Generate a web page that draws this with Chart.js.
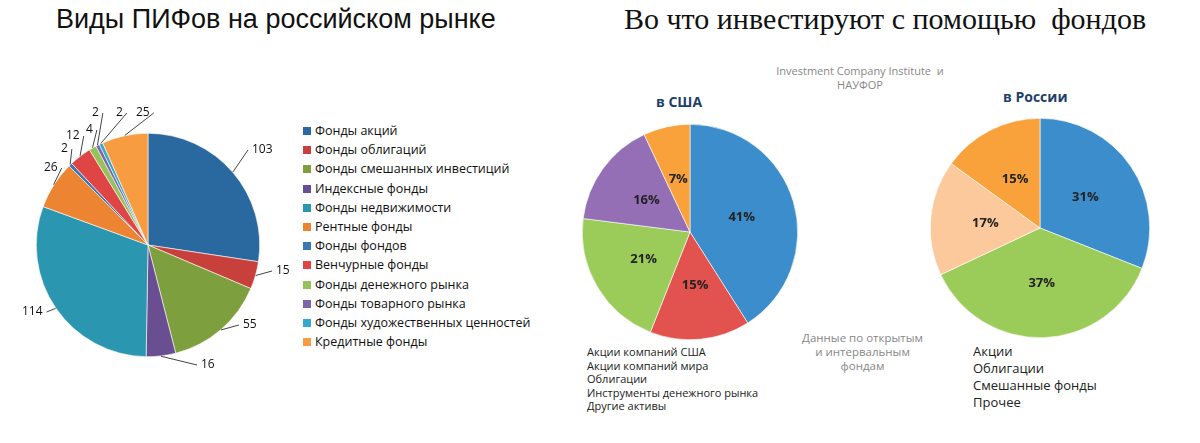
<!DOCTYPE html><html><head><meta charset="utf-8">
<script src="https://cdn.jsdelivr.net/npm/chart.js@4"></script>
<style>
body{margin:0;width:1200px;height:443px;background:#fff;position:relative;font-family:"Open Sans","DejaVu Sans",sans-serif;overflow:hidden}
.a{position:absolute}
canvas{position:absolute}
.lg div{font-size:12.5px;line-height:19.2px;color:#111;white-space:nowrap}
.lg span{display:inline-block;width:8px;height:8px;margin-right:4px}
.lg2 div{font-size:11px;line-height:13.5px;color:#222}
.lg3 div{font-size:13px;line-height:17px;color:#222}
</style></head><body>
<div class="a" style="left:56px;top:4px;font-family:'Liberation Sans',Arial;font-size:27px;color:#111">Виды ПИФов на российском рынке</div>
<div class="a" style="left:624px;top:2px;font-family:'Liberation Serif','DejaVu Serif',serif;font-size:30px;color:#111">Во что инвестируют с помощью&nbsp; фондов</div>
<div class="a" style="left:760px;top:64px;width:200px;text-align:center;font-size:11px;color:#888;line-height:14px">Investment Company Institute&nbsp; и<br>НАУФОР</div>
<div class="a" style="left:656px;top:92px;font-size:14px;font-weight:bold;color:#1f3f6a">в США</div>
<div class="a" style="left:1003px;top:87px;font-size:14px;font-weight:bold;color:#1f3f6a">в России</div>
<div class="a" style="left:785px;top:331px;width:155px;text-align:center;font-size:11.5px;color:#888;line-height:14px">Данные по открытым<br>и интервальным<br>фондам</div>
<div class="a lg" id="lg1" style="left:303px;top:121px"></div>
<div class="a lg2" id="lg2" style="left:587px;top:345px"></div>
<div class="a lg3" id="lg3" style="left:973px;top:343px"></div>
<canvas id="c1" class="a" style="left:36px;top:133px" width="224" height="224"></canvas>
<canvas id="c2" class="a" style="left:582px;top:124px" width="216" height="216"></canvas>
<canvas id="c3" class="a" style="left:930px;top:118px" width="220" height="220"></canvas>
<script>
const fundTypes=["Фонды акций","Фонды облигаций","Фонды смешанных инвестиций","Индексные фонды","Фонды недвижимости","Рентные фонды","Фонды фондов","Венчурные фонды","Фонды денежного рынка","Фонды товарного рынка","Фонды художественных ценностей","Кредитные фонды"];
const fundCounts=[103,15,55,16,114,26,2,12,4,2,2,25];
const fundColors=["#2a69a0","#c8403c","#7e9f3e","#6a4e92","#2a96b0","#ec8432","#3a78b4","#e04545","#96c25a","#8064a8","#32a8cc","#f89c42"];
const usCats=["Акции компаний США","Акции компаний мира","Облигации","Инструменты денежного рынка","Другие активы"];
const usShares=[41,15,21,16,7];
const usColors=["#3c8dcc","#e2534f","#9bcb59","#946fb5","#f9a23c"];
const ruCats=["Акции","Облигации","Смешанные фонды","Прочее"];
const ruShares=[31,37,17,15];
const ruColors=["#3c8dcc","#9bcb59","#fbc99b","#f9a23c"];

function legend(id,cats,cols){document.getElementById(id).innerHTML=cats.map((c,i)=>`<div><span style="background:${cols[i]}"></span>${c}</div>`).join('');}
legend('lg1',fundTypes,fundColors);legend('lg2',usCats,usColors);legend('lg3',ruCats,ruColors);

const inside={id:'inside',afterDatasetsDraw(ch){const ctx=ch.ctx;ch.getDatasetMeta(0).data.forEach((a,i)=>{const p=a.tooltipPosition();ctx.save();ctx.font='bold 13px "Open Sans",sans-serif';ctx.fillStyle='#222';ctx.textAlign='center';ctx.textBaseline='middle';ctx.fillText(ch.data.datasets[0].data[i]+'%',p.x,p.y);ctx.restore();});}};
const base={responsive:false,animation:false,layout:{padding:0},plugins:{legend:{display:false},tooltip:{enabled:false}}};
function pie(id,data,cols,plugins,extra){return new Chart(document.getElementById(id),{type:'pie',data:{datasets:[{data,backgroundColor:cols,borderColor:'#fff',borderWidth:0.6}]},options:Object.assign({},base,extra||{}),plugins});}

// outside labels for the first pie: drawn on a full-page overlay
pie('c1',fundCounts,fundColors,[],{});
pie('c2',usShares,usColors,[inside]);
pie('c3',ruShares,ruColors,[inside]);

// leader labels
const ov=document.createElement('canvas');ov.width=300;ov.height=443;ov.style.left='0';ov.style.top='0';document.body.appendChild(ov);
const ctx=ov.getContext('2d');const cx=148,cy=245,R=112;
const total=fundCounts.reduce((a,b)=>a+b,0);
// label positions (text anchors)
const lblPos=[[252,150],[276,271],[243,325],[201,365],[22,312],[44,168],[61,149],[66,136],[86,130],[92,113],[116,113],[136,113]];
let acc=0;ctx.font='12px "Open Sans",sans-serif';ctx.fillStyle='#111';ctx.strokeStyle='#444';ctx.lineWidth=1;ctx.textBaseline='middle';
fundCounts.forEach((v,i)=>{const mid=-Math.PI/2+(acc+v/2)/total*2*Math.PI;acc+=v;
 const ex=cx+Math.cos(mid)*R,ey=cy+Math.sin(mid)*R;const [tx,ty]=lblPos[i];const right=tx>cx;
 ctx.beginPath();ctx.moveTo(ex,ey);ctx.lineTo(right?tx-4:tx+4+ctx.measureText(v).width,ty);ctx.stroke();
 ctx.textAlign='left';ctx.fillText(v,right?tx:tx,ty);});
</script></body></html>
